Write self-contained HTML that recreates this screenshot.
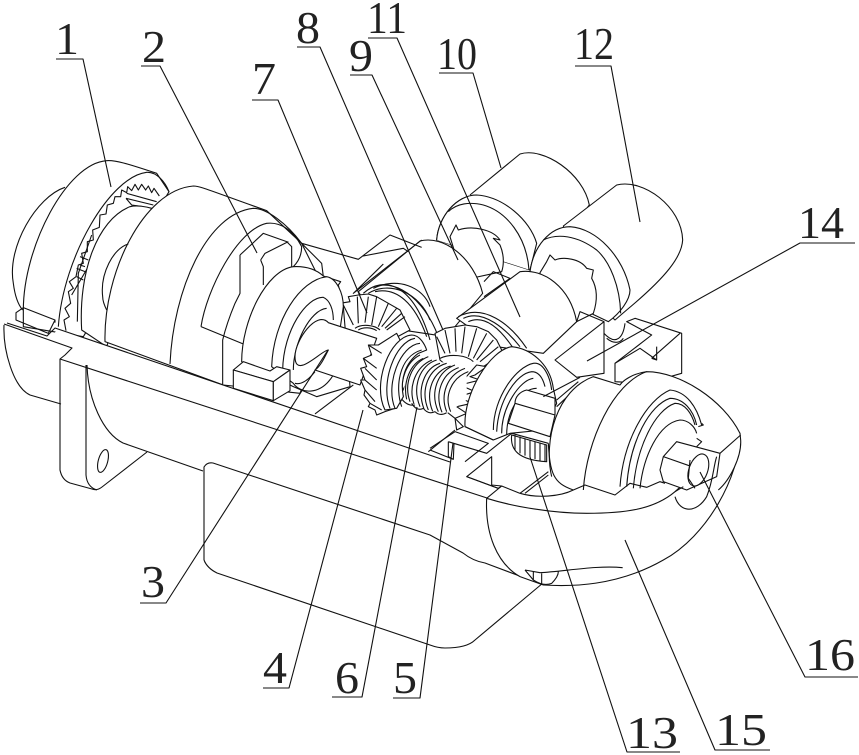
<!DOCTYPE html>
<html><head><meta charset="utf-8"><style>
html,body{margin:0;padding:0;background:#fff}
svg{display:block}
text{font-family:"Liberation Serif",serif;font-size:46px;fill:#222}
.l{fill:none;stroke:#111;stroke-width:1.1;stroke-linejoin:round}
.z{fill:none;stroke:#111;stroke-width:3.3;stroke-linejoin:round}
path.f,ellipse.f{fill:#fff}
</style></head><body>
<svg width="859" height="755" viewBox="0 0 859 755" xmlns="http://www.w3.org/2000/svg">
<rect width="859" height="755" fill="#fff"/>

<!-- back motors -->
<g class="z" transform="translate(330,140) scale(.33333)">
<path class="f" d="M420,165L570,42C640,20 760,100 778,195L700,300L600,390L320,300C325,230 380,165 440,165"/>
<path class="f" d="M320,300C325,230 380,165 440,165C520,170 600,240 620,310L600,390"/>
<path d="M355,215C380,190 420,185 460,195C530,215 590,290 597,390"/>
<path class="f" d="M360,290L378,255L385,270C430,255 490,270 510,300L490,295L510,315C525,350 520,380 515,395L400,420Z"/>
<path class="f" d="M85,455L270,303C340,285 430,350 458,460L350,590L150,560Z"/>
<path d="M462,425L490,395L540,415L462,470"/>
<path class="f" d="M700,258L860,135C940,115 1055,200 1058,300C1055,350 1010,410 890,510L855,540L760,450Z"/>
<path class="f" d="M600,395C610,320 660,260 720,260C800,265 880,350 900,450C900,480 870,520 835,545L740,500Z"/>
<path d="M640,300C680,280 740,285 800,330C840,365 870,440 872,520"/>
<path class="f" d="M630,398L650,365L660,345L675,360C700,350 750,355 770,385L790,390L785,415C805,450 800,490 790,520L740,545L640,500Z"/>
<path class="f" d="M380,535L570,395C640,385 720,440 740,545L640,640L500,620Z"/>
<path d="M385,530C460,490 540,550 590,625M400,535C460,505 530,570 570,620M415,545C470,520 520,580 550,625"/>
<path d="M100,460C160,405 250,430 300,600M120,445C190,410 280,470 325,590M135,455C200,440 255,490 290,590"/>
<!-- bracket 14 -->
<path class="f" d="M675,660L822,545V700L740,712Z"/>
<path d="M740,545L750,515L822,545"/>
<path class="f" d="M855,725V670L965,585L890,545L915,535L1055,580V700L950,730Z"/>
<path d="M965,655L1050,580M965,655L980,660V620M855,670L930,625L980,660"/>
<path d="M822,580C860,620 880,590 885,550M830,595C850,612 870,610 880,595"/>
</g>

<!-- left assembly -->
<g class="z" transform="translate(0,140) scale(.33333)">
<path d="M195,142C110,170 20,320 40,430C45,470 55,495 68,510"/>
<path class="f" d="M70,510C70,320 200,70 320,62C345,60 380,70 470,100L507,155L250,590L70,560Z"/>
<path d="M175,560C190,350 330,110 440,97C470,95 495,125 507,155"/>
<path d="M48,518L70,503L165,540L145,580L48,540ZM165,540V548"/>
<path d="M198,572L192,540L208,530L195,505L212,490L205,455L220,445L208,425L228,410L235,375L250,370L245,340L262,335L262,305L280,300L278,270L298,262L300,225L318,222L322,195L340,190L345,170L362,170L365,150L380,158L383,140L395,152L405,133L415,150L425,133L437,150L445,138L455,158L462,145L478,168"/>
<path d="M378,175L460,195M380,160L470,185M378,175L395,195L430,200"/>
<path d="M232,545L235,400L275,285M215,465L265,380M230,385L255,395M240,350L265,360M240,375L255,380M230,410L250,420"/>
<path class="f" d="M245,570C235,400 290,240 390,200C410,195 440,200 455,205L320,620Z"/>
<path class="f" d="M315,605C310,400 430,150 580,138C600,138 620,148 800,212L905,310L1000,500L900,760L670,735Z"/>
<path d="M510,672C520,450 620,220 760,205C800,205 860,250 905,310"/>
<path d="M308,470C300,400 340,325 385,312M320,510C310,490 308,480 308,470"/>
<path d="M905,310L1075,358L1170,285L1265,322M1090,348L1210,325L1225,335"/>
<path d="M1150,372L1060,460L1265,300"/>
<path d="M603,560C620,450 710,270 800,250C840,245 880,270 905,320C905,345 895,365 880,380"/>
<path d="M603,560L730,612M720,345V460L705,490Q680,550 668,600V735"/>
<path d="M720,345L790,280L860,305L875,320V380M782,360L795,340L865,305M782,360L790,380V435"/>
<path d="M905,310L965,370L970,410"/>
<!-- gear 7 -->
<path class="f" d="M1010,555L1025,525L1020,490L1050,485L1045,470L1075,465L1105,462L1130,470L1165,490L1200,510L1230,570L1100,640Z"/>
<path d="M1060,555L1030,495M1075,550L1072,470M1095,548L1105,470M1115,555L1130,470M1135,560L1165,490M1145,560L1190,505M1155,565L1205,520M1160,570L1215,530"/>
<path d="M1065,565C1085,550 1125,555 1140,570M1075,570C1090,560 1115,562 1130,572"/>
<path d="M1105,460C1170,420 1260,460 1290,540M1120,445C1190,410 1270,440 1290,500"/>
<!-- bearing 3 -->
<path class="f" d="M725,665C725,540 800,390 880,380C920,378 950,390 970,408L1022,425L1015,435L1030,500L1050,740L950,770L880,740Z"/>
<path class="f" d="M815,680C820,540 900,420 980,410C1010,415 1030,460 1030,500L1000,705C960,770 900,760 880,730Z"/>
<path d="M848,690C850,570 920,470 970,472C990,480 1000,510 1000,540"/>
<path d="M880,690C880,610 930,510 980,505"/>
<path d="M885,730C905,735 925,720 945,695"/>
<path class="f" d="M985,548L1130,595L1080,735L945,690C960,680 970,660 985,630C965,630 885,720 885,650C885,600 950,510 985,548Z"/>
<path d="M945,822L1060,735"/>
<path class="f" d="M700,690L730,665L810,693L830,680L870,690L820,725Z"/>
<path class="f" d="M700,690L820,725V782L700,745Z"/>
<path class="f" d="M820,725L870,690V752L820,782Z"/>
</g>

<!-- centre: gear 8, spring, gear 4 -->
<g class="z" transform="translate(330,140) scale(.33333)">
<path class="f" d="M315,580L345,565L375,560L405,555L440,560L475,575L500,600L520,640L400,720L330,660Z"/>
<path d="M345,640L320,590M360,640L345,570M378,635L375,565M395,640L405,560M415,650L440,565M430,655L470,580M440,660L490,600M450,665L505,620"/>
<path d="M330,655C360,640 410,645 430,665"/>
<path class="f" d="M440,675L470,680L435,705L420,710L450,720L390,735L435,755L385,770L425,790L380,800L410,820L375,835L400,860L380,870L375,835L330,800Z"/>
</g>
<g class="z" transform="translate(340,300) scale(.33333)">
<path class="f" d="M115,135L85,135L95,165L70,175L80,200L62,205L75,240L62,240L75,270L72,285L90,310L85,320L105,330L110,345L135,335L165,325L220,200L170,100Z"/>
<path d="M85,135L125,160M70,175L110,205M75,205L110,240M75,240L110,270M75,270L105,305M90,310L125,330"/>
<path fill="#fff" stroke="none" d="M200,175L380,195L380,300L320,340L240,325L190,300Z"/>
<path d="M190,290C178,240 200,185 240,165M200,298C188,248 210,192 250,175"/>
<path d="M210,305C190,250 215,190 265,170M222,312C204,258 228,200 276,180"/>
<path d="M240,320C215,260 240,195 290,180M252,327C230,268 252,205 300,190"/>
<path d="M265,330C240,270 265,205 320,190M278,334C254,278 278,212 332,198"/>
<path d="M295,335C270,280 290,215 345,195M306,337C284,285 302,222 356,203"/>
<path d="M320,335C300,285 320,225 375,205M332,335C312,290 332,235 385,215"/>
<path d="M180,290Q200,320 225,315M215,310Q230,335 250,325M250,325Q265,345 285,335M285,335Q300,350 320,338"/>
<path class="f" d="M135,330C95,250 150,110 215,105C240,105 255,135 260,150L235,160C195,190 180,240 190,290L170,325Z"/>
<path d="M150,325C120,250 165,125 225,115M165,325C135,255 180,135 240,130M185,320C165,265 175,170 245,150"/>
</g>

<!-- frame body -->
<path fill="#fff" d="M4,324L50,338L58,329L448,461L487,498V540L555,590L480,645L450,648L205,570V470L145,450L100,490L90,490L62,470L60,405L25,395L4,360Z"/>
<g class="l">
<path d="M7,323L47,336L55,328L450,462"/>
<path d="M4,324L72,348L65,355L60,359L487,498"/>
<path d="M4,325C3,350 13,387 30,395L61,404"/>
<path d="M60,359V470Q62,480 70,483L92,489Q97,491 102,487L147,452"/>
<path d="M86,365V475Q87,487 97,490"/>
<path d="M87,365C88,400 103,433 123,443L203,471"/>
<path d="M204,560V467Q207,462 213,463L430,535L463,553Q473,561 485,563L533,581"/>
<path d="M204,560Q207,568 217,573L430,645Q438,648 445,648Q467,648 475,640L543,583"/>
<ellipse cx="103" cy="461" rx="4.7" ry="11.7" transform="rotate(15 103 461)"/>
</g>

<!-- bowl -->
<g class="z" transform="translate(430,400) scale(.33333)">
<path class="f" d="M170,295C165,400 200,490 270,530L340,555C420,560 560,560 700,480C830,410 930,230 930,100L735,275C670,330 580,340 470,340C370,340 250,320 170,295Z"/>
<path class="f" d="M110,230L185,170V255L215,258L205,265Z"/>
<path d="M170,295L215,258L270,280M205,265L110,230"/>
<path d="M270,280L355,215M285,280L355,225"/>
<path d="M285,510L310,540Q340,560 365,550Q385,530 385,515M285,510L330,518C400,515 500,495 578,503M310,515V540M335,520V550"/>
<path d="M0,145L75,95L175,130L105,185M55,125L170,160L245,100L355,130M55,125V170L70,178M72,130L70,178L0,150"/>
</g>

<!-- right front assembly -->
<g class="z" transform="translate(330,140) scale(.33333)">
<path class="f" d="M405,860C400,760 480,630 545,620C600,625 660,670 670,745L680,790L640,870L540,880L490,900Z"/>
<path d="M490,870C490,770 560,680 610,670C640,665 660,710 665,750"/>
<path d="M500,875C505,780 560,700 605,695C630,695 640,720 645,740M515,880C515,800 570,720 610,715M530,885C530,810 575,745 620,745"/>
<path class="f" d="M555,790L675,825V775L590,750C570,755 555,770 555,790L535,850L660,890L675,825Z"/>
<path d="M640,770L750,712M680,780L745,725M680,800L755,730"/>
<path d="M405,860L490,900M295,935L375,870"/>
<path class="f" d="M545,885C540,930 565,960 650,965V915Z"/>
<path d="M555,885V930M570,890V940M585,895V947M600,900V952M615,905V957M630,908V962M645,912V965"/>
<path class="f" d="M665,1010C640,900 680,750 790,710L870,735C880,720 910,700 950,695C1050,695 1180,780 1230,880L1232,900C1235,950 1200,1020 1165,1050"/>
<path d="M760,1050C770,900 850,730 950,695"/>
<path d="M870,1040C880,900 950,780 1020,750C1070,755 1100,800 1115,855M890,1040C900,900 960,795 1020,775C1060,775 1090,810 1100,855M910,1045C920,920 975,810 1035,790C1065,790 1085,820 1095,855M930,1045C940,950 985,850 1050,840C1075,840 1095,860 1100,880"/>
<path d="M1100,895L1115,905L1100,920M1115,850L1120,855L1105,860"/>
<path d="M1170,940L1232,885"/>
<path class="f" d="M1040,905L1000,950L990,990L1000,1025L1070,1050L1160,1010L1170,940Z"/>
<path d="M1000,950L1100,985"/>
<ellipse class="f" cx="1105" cy="990" rx="28" ry="50" transform="rotate(20 1105 990)"/>
<path d="M1080,960L1075,1015L1095,1045"/>
</g>
<g class="z" transform="translate(430,400) scale(.33333)">
<path d="M355,130C360,220 370,250 430,270L465,255L555,285L600,250L650,262L690,245L705,250M270,280C320,295 390,290 430,270"/>
<path d="M735,290C750,340 800,340 830,290C850,240 850,200 860,170"/>
<path d="M735,275L760,260"/>
</g>

<g class="l">
<!-- leader lines -->
<path d="M56,59H83L111,187"/>
<path d="M141,66H160L257,253"/>
<path d="M252,100H278L367,313"/>
<path d="M297,47H320L443,330"/>
<path d="M350,75H372L458,260"/>
<path d="M368,38H397L520,317"/>
<path d="M439,73H473L501,168"/>
<path d="M575,66H611L640,222"/>
<path d="M855,243H800L587,361"/>
<path d="M140,603H166L328,350"/>
<path d="M263,688H289L363,410"/>
<path d="M332,697H362L417,407"/>
<path d="M393,698H420L453,443"/>
<path d="M680,752H627L530,457"/>
<path d="M770,750H715L625,540"/>
<path d="M858,677H805L700,472"/>
</g>

<text x="55" y="54" textLength="24" lengthAdjust="spacingAndGlyphs">1</text>
<text x="142" y="62" textLength="24" lengthAdjust="spacingAndGlyphs">2</text>
<text x="141" y="597" textLength="24" lengthAdjust="spacingAndGlyphs">3</text>
<text x="263" y="683" textLength="24" lengthAdjust="spacingAndGlyphs">4</text>
<text x="393" y="693" textLength="24" lengthAdjust="spacingAndGlyphs">5</text>
<text x="335" y="693" textLength="24" lengthAdjust="spacingAndGlyphs">6</text>
<text x="252" y="94" textLength="24" lengthAdjust="spacingAndGlyphs">7</text>
<text x="296" y="43" textLength="24" lengthAdjust="spacingAndGlyphs">8</text>
<text x="349" y="71" textLength="24" lengthAdjust="spacingAndGlyphs">9</text>
<text x="437" y="69" textLength="40" lengthAdjust="spacingAndGlyphs">10</text>
<text x="367" y="33" textLength="40" lengthAdjust="spacingAndGlyphs">11</text>
<text x="574" y="59" textLength="40" lengthAdjust="spacingAndGlyphs">12</text>
<text x="626" y="748" textLength="52" lengthAdjust="spacingAndGlyphs">13</text>
<text x="798" y="238" textLength="46" lengthAdjust="spacingAndGlyphs">14</text>
<text x="715" y="745" textLength="52" lengthAdjust="spacingAndGlyphs">15</text>
<text x="805" y="670" textLength="50" lengthAdjust="spacingAndGlyphs">16</text>
</svg>
</body></html>
